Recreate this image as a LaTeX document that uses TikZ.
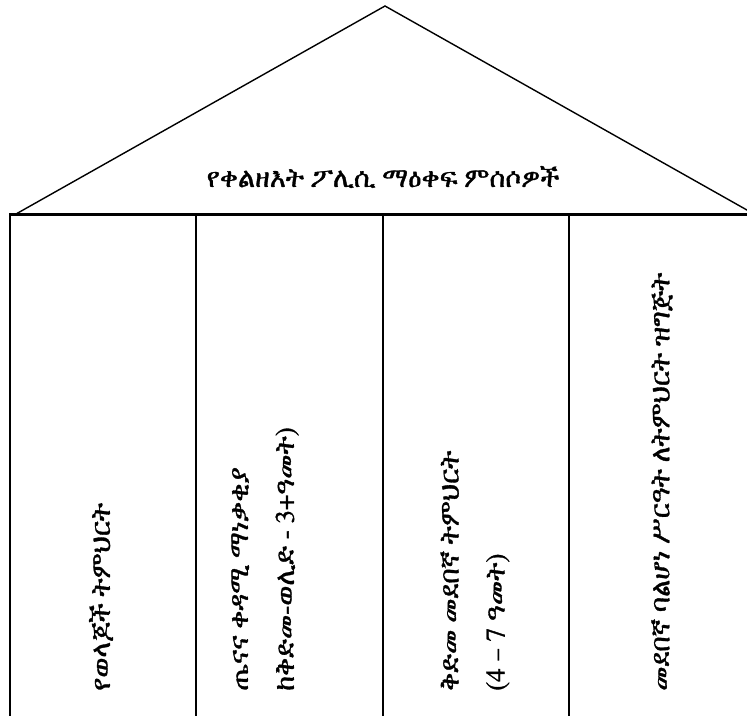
\documentclass[tikz,border=0pt]{standalone}
\usepackage{fontspec}
\IfFontExistsTF{FreeSerif}{\newfontfamily\ethfont[FakeBold=1.2]{FreeSerif}}{\newfontfamily\ethfont{DejaVu Sans}}
\usetikzlibrary{positioning}
\tikzset{
  roofline/.style={line width=1.4pt,line join=miter},
  beamline/.style={line width=3pt},
  pillarline/.style={line width=1.4pt},
  edgeline/.style={line width=2.5pt},
  roofnote/.style={inner sep=0pt,font=\ethfont\fontsize{27}{32}\selectfont},
  pillarnote/.style={rotate=90,anchor=west,align=left,inner sep=0pt,font=\ethfont\fontsize{27}{46}\selectfont},
}

\begin{document}
\begin{tikzpicture}[x=1pt,y=-1pt]
  \useasboundingbox (0,0) rectangle (747,715);
  % roof
  \coordinate (apex) at (385,6);
  \coordinate (eaveL) at (16,214);
  \coordinate (eaveR) at (754,214);
  \draw[roofline] (eaveL) -- (apex) -- (eaveR);
  \node[roofnote] (roof) at (383,177) {የቀልዘእት ፖሊሲ ማዕቀፍ ምሰሶዎች};
  % pillars
  \coordinate (beamL) at (9,214);
  \coordinate (beamR) at (756,214);
  \coordinate (edgeT) at (10,214);
  \coordinate (edgeB) at (10,716);
  \draw[edgeline] (edgeT) -- (edgeB);
  \foreach \i/\x in {1/196,2/383,3/569}{
    \coordinate (top\i) at (\x,214);
    \coordinate (foot\i) at (\x,716);
    \draw[pillarline] (top\i) -- (foot\i);
  }
  \draw[beamline] (beamL) -- (beamR);
  \node[pillarnote] (parents) at (101,691) {የወላጆች ትምህርት};
  \node[pillarnote] (health) at (265,691) {ጤናና ቀዳሚ ማነቃቂያ\\ከቅድመ-ወሊድ - 3+ዓመት)};
  \node[pillarnote] (preschool) at (475,691) {ቅድመ መደበኛ ትምህርት\\(4 – 7 ዓመት)};
  \node[pillarnote] (readiness) at (662,691) {መደበኛ ባልሆነ ሥርዓት ለትምህርት ዝግጅት};
\end{tikzpicture}
\end{document}
